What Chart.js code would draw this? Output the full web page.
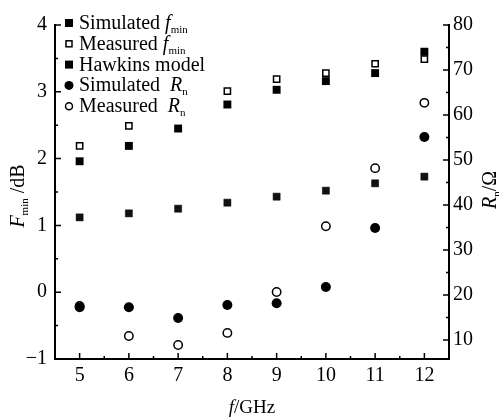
<!DOCTYPE html>
<html>
<head>
<meta charset="utf-8">
<script src="https://cdn.jsdelivr.net/npm/chart.js@4.4.1/dist/chart.umd.min.js"></script>
<style>
  html, body { margin: 0; padding: 0; background: #fff; }
  #wrap { width: 499px; height: 417px; }
</style>
</head>
<body>
<div id="wrap"><canvas id="myChart" width="499" height="417"></canvas></div>
<script>
// frequencies, GHz
const freqs = [5, 6, 7, 8, 9, 10, 11, 12];
// Fmin, dB (left axis)
const simFmin  = [1.96, 2.19, 2.45, 2.81, 3.03, 3.16, 3.28, 3.60];
const measFmin = [2.19, 2.49, null, 3.01, 3.19, 3.28, 3.42, 3.49];
const hawkins  = [1.12, 1.18, 1.25, 1.34, 1.43, 1.52, 1.63, 1.73];
// Rn, ohm (right axis)
const simRn  = [17.3, 17.3, 14.9, 17.8, 18.2, 21.8, 34.9, 55.1];
const measRn = [17.6, 10.9, 8.9, 11.6, 20.7, 35.3, 48.2, 62.7];

const leftTicks = [-1, 0, 1, 2, 3, 4];
const rightTicks = [10, 20, 30, 40, 50, 60, 70, 80];

const SERIF = '"Liberation Serif", "DejaVu Serif", serif';

function pts(arr) {
  return freqs.map((f, i) => ({ x: f, y: arr[i] }));
}

/* tick marks pointing inward + axis titles + legend */
const decor = {
  id: 'decor',
  beforeDraw(chart) {
    const c = chart.ctx;
    c.save();
    c.fillStyle = '#fff';
    c.fillRect(0, 0, chart.width, chart.height);
    c.restore();
  },
  afterDraw(chart) {
    const c = chart.ctx;
    const a = chart.chartArea;
    const x = chart.scales.x, yl = chart.scales.y, yr = chart.scales.y1;
    c.save();
    c.strokeStyle = '#000';
    c.lineWidth = 1.5;
    c.beginPath();
    // bottom axis ticks
    for (let v = 5; v <= 12; v += 0.5) {
      const px = x.getPixelForValue(v);
      const len = Number.isInteger(v) ? 6 : 3;
      c.moveTo(px, a.bottom); c.lineTo(px, a.bottom - len);
    }
    // left axis ticks
    for (let v = -1; v <= 4; v += 0.5) {
      const py = yl.getPixelForValue(v);
      const len = Number.isInteger(v) ? 6 : 3;
      c.moveTo(a.left, py); c.lineTo(a.left + len, py);
    }
    // right axis ticks
    for (let v = 10; v <= 80; v += 5) {
      const py = yr.getPixelForValue(v);
      const len = (v % 10 === 0) ? 6 : 3;
      c.moveTo(a.right, py); c.lineTo(a.right - len, py);
    }
    c.stroke();

    c.fillStyle = '#000';
    c.textBaseline = 'alphabetic';

    // draws pieces [text, style, sizeScale, dy]
    function drawPieces(pieces, x0, y0, size, align) {
      let total = 0;
      pieces.forEach(p => {
        c.font = (p[1] || '') + ' ' + Math.round(size * (p[2] || 1)) + 'px ' + SERIF;
        total += c.measureText(p[0]).width;
      });
      let cx = align === 'center' ? x0 - total / 2 : x0;
      c.textAlign = 'left';
      pieces.forEach(p => {
        c.font = (p[1] || '') + ' ' + Math.round(size * (p[2] || 1)) + 'px ' + SERIF;
        c.fillText(p[0], cx, y0 + (p[3] || 0));
        cx += c.measureText(p[0]).width;
      });
    }

    // x title
    drawPieces([['f', 'italic'], ['/GHz']], (a.left + a.right) / 2, 413, 19, 'center');

    // left title
    c.save();
    c.translate(24, 196);
    c.rotate(-Math.PI / 2);
    drawPieces([['F', 'italic'], ['min', '', 0.55, 4], [' /dB']], 0, 0, 20, 'center');
    c.restore();

    // right title
    c.save();
    c.translate(496, 190);
    c.rotate(-Math.PI / 2);
    drawPieces([['R', 'italic'], ['n', '', 0.55, 4], ['/\u03a9']], 0, 0, 20, 'center');
    c.restore();

    // legend
    const rows = [
      { label: [['Simulated '], ['f', 'italic'], ['min', '', 0.55, 4]], mark: 'fsq' },
      { label: [['Measured '], ['f', 'italic'], ['min', '', 0.55, 4]], mark: 'osq' },
      { label: [['Hawkins model']], mark: 'hsq' },
      { label: [['Simulated  '], ['R', 'italic'], ['n', '', 0.55, 4]], mark: 'fci' },
      { label: [['Measured  '], ['R', 'italic'], ['n', '', 0.55, 4]], mark: 'oci' }
    ];
    rows.forEach((r, i) => {
      const cy = 23 + i * 20.8;
      const mx = 69;
      c.lineWidth = 1.5;
      if (r.mark === 'fsq' || r.mark === 'hsq') {
        c.fillStyle = '#000';
        c.fillRect(mx - 4, cy - 4, 8, 8);
      } else if (r.mark === 'osq') {
        c.strokeRect(mx - 3, cy - 3, 6, 6);
      } else if (r.mark === 'fci') {
        c.beginPath(); c.arc(mx, cy, 4.5, 0, Math.PI * 2); c.fill();
      } else {
        c.beginPath(); c.arc(mx, cy, 3.5, 0, Math.PI * 2); c.stroke();
      }
      c.fillStyle = '#000';
      drawPieces(r.label, 79, cy + 6, 20, 'left');
    });
    c.restore();
  }
};

const data = {
  datasets: [
    {
      label: 'Simulated fmin', data: pts(simFmin), yAxisID: 'y',
      pointStyle: 'rect', pointRadius: 5.6, backgroundColor: '#000', borderColor: '#000', borderWidth: 0
    },
    {
      label: 'Measured fmin', data: pts(measFmin), yAxisID: 'y',
      pointStyle: 'rect', pointRadius: 4.4, backgroundColor: '#fff', borderColor: '#000', borderWidth: 1.5
    },
    {
      label: 'Hawkins model', data: pts(hawkins), yAxisID: 'y',
      pointStyle: 'rect', pointRadius: 5, backgroundColor: '#111', borderColor: '#000', borderWidth: 0.5
    },
    {
      label: 'Simulated Rn', data: pts(simRn), yAxisID: 'y1',
      pointStyle: 'circle', pointRadius: 5, backgroundColor: '#000', borderColor: '#000', borderWidth: 0
    },
    {
      label: 'Measured Rn', data: pts(measRn), yAxisID: 'y1',
      pointStyle: 'circle', pointRadius: 4.2, backgroundColor: '#fff', borderColor: '#000', borderWidth: 1.5
    }
  ]
};

const tickFont = { family: SERIF, size: 20 };

const config = {
  type: 'scatter',
  data: data,
  options: {
    responsive: false,
    animation: false,
    devicePixelRatio: 1,
    layout: { padding: { top: 25, left: 0, right: 0, bottom: 0 } },
    plugins: { legend: { display: false }, tooltip: { enabled: false } },
    scales: {
      x: {
        type: 'linear', min: 4.5, max: 12.5,
        afterBuildTicks: s => { s.ticks = freqs.map(v => ({ value: v })); },
        afterFit: s => { s.height = 58; },
        grid: { display: false, drawTicks: false },
        border: { display: true, color: '#000', width: 2 },
        ticks: { font: tickFont, color: '#000', padding: 5 }
      },
      y: {
        position: 'left', min: -1, max: 4,
        afterBuildTicks: s => { s.ticks = leftTicks.map(v => ({ value: v })); },
        afterFit: s => { s.width = 55; },
        grid: { display: false, drawTicks: false },
        border: { display: true, color: '#000', width: 2 },
        ticks: { font: tickFont, color: '#000', padding: 8,
                 callback: v => v < 0 ? '\u2212' + Math.abs(v) : String(v) }
      },
      y1: {
        position: 'right', min: 5.8, max: 80,
        afterBuildTicks: s => { s.ticks = rightTicks.map(v => ({ value: v })); },
        afterFit: s => { s.width = 50; },
        grid: { display: false, drawTicks: false },
        border: { display: true, color: '#000', width: 2 },
        ticks: { font: tickFont, color: '#000', padding: 4 }
      }
    }
  },
  plugins: [decor]
};

const ctx = document.getElementById('myChart').getContext('2d');
const myChart = new Chart(ctx, config);
</script>
</body>
</html>
